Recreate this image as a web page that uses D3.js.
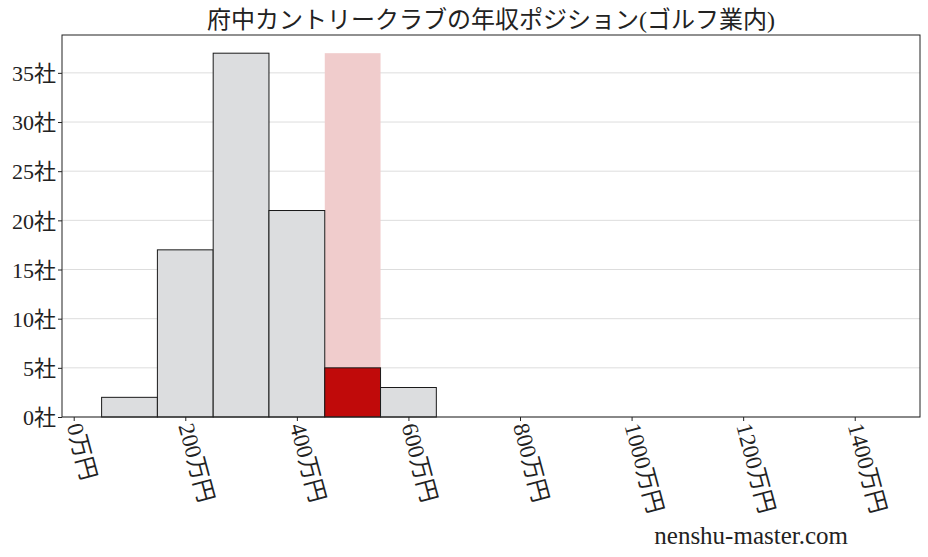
<!DOCTYPE html>
<html>
<head>
<meta charset="utf-8">
<script src="https://cdn.jsdelivr.net/npm/d3@7"></script>
<style>
  body { margin: 0; background: #fff; }
  svg text { font-family: "Liberation Serif", "Noto Sans CJK JP", serif; fill: #222; }
</style>
</head>
<body>
<svg id="chart"></svg>
<script>
// histogram bins (万円) and company counts
const binStarts = [50, 150, 250, 350, 450, 550];
const binWidth = 100;
const counts = [2, 17, 37, 21, 5, 3];
const highlightBin = 4; // 府中カントリークラブ
const xTicks = [0, 200, 400, 600, 800, 1000, 1200, 1400];
const yTicks = [0, 5, 10, 15, 20, 25, 30, 35];
const title = "府中カントリークラブの年収ポジション(ゴルフ業内)";

const width = 928, height = 557;
const margin = { top: 35, right: 8, bottom: 140, left: 62 };

const svg = d3.select("#chart")
  .attr("width", width)
  .attr("height", height);

const x = d3.scaleLinear()
  .domain([-21, 1517])
  .range([margin.left, width - margin.right]);

const y = d3.scaleLinear()
  .domain([0, d3.max(counts) * 1.05])
  .range([height - margin.bottom, margin.top]);

// horizontal grid
svg.append("g")
  .selectAll("line")
  .data(yTicks)
  .enter()
  .append("line")
  .attr("x1", x.range()[0])
  .attr("x2", x.range()[1])
  .attr("y1", d => y(d))
  .attr("y2", d => y(d))
  .attr("stroke", "#dddddd")
  .attr("stroke-width", 1);

// highlight band behind the target bin
svg.append("rect")
  .attr("x", x(binStarts[highlightBin]))
  .attr("width", x(binStarts[highlightBin] + binWidth) - x(binStarts[highlightBin]))
  .attr("y", y(d3.max(counts)))
  .attr("height", y(0) - y(d3.max(counts)))
  .attr("fill", "#f0cccc");

// bars
svg.append("g")
  .selectAll("rect")
  .data(counts)
  .enter()
  .append("rect")
  .attr("x", (d, i) => x(binStarts[i]))
  .attr("width", (d, i) => x(binStarts[i] + binWidth) - x(binStarts[i]))
  .attr("y", d => y(d))
  .attr("height", d => y(0) - y(d))
  .attr("fill", (d, i) => i === highlightBin ? "#c00a0a" : "#dcdddf")
  .attr("stroke", "#1a1a1a")
  .attr("stroke-width", 1);

// frame
svg.append("rect")
  .attr("x", x.range()[0])
  .attr("y", margin.top)
  .attr("width", x.range()[1] - x.range()[0])
  .attr("height", y(0) - margin.top)
  .attr("fill", "none")
  .attr("stroke", "#222")
  .attr("stroke-width", 1);

// y axis
const yAxis = svg.append("g")
  .attr("transform", `translate(${margin.left},0)`)
  .call(d3.axisLeft(y).tickValues(yTicks).tickSize(4).tickPadding(2).tickFormat(d => d + "社"));
yAxis.select(".domain").remove();
yAxis.selectAll("line").attr("stroke", "#222");
yAxis.selectAll("text")
  .attr("font-size", 22)
  .attr("dy", "0.35em")
  .attr("fill", "#222");

// x axis
const xAxis = svg.append("g")
  .attr("transform", `translate(0,${y(0)})`)
  .call(d3.axisBottom(x).tickValues(xTicks).tickSize(4).tickFormat(d => d + "万円"));
xAxis.select(".domain").remove();
xAxis.selectAll("line").attr("stroke", "#222");
xAxis.selectAll("text")
  .attr("font-size", 23)
  .attr("fill", "#222")
  .attr("text-anchor", "start")
  .attr("y", 0)
  .attr("dy", 0)
  .attr("transform", "translate(-8,9) rotate(75) translate(0,-8)")
  .attr("dominant-baseline", "central");

// title
svg.append("text")
  .attr("x", (x.range()[0] + x.range()[1]) / 2)
  .attr("y", 28)
  .attr("text-anchor", "middle")
  .attr("font-size", 24)
  .text(title);

// watermark
svg.append("text")
  .attr("x", 848)
  .attr("y", 544)
  .attr("text-anchor", "end")
  .attr("font-size", 25)
  .text("nenshu-master.com");
</script>
</body>
</html>
